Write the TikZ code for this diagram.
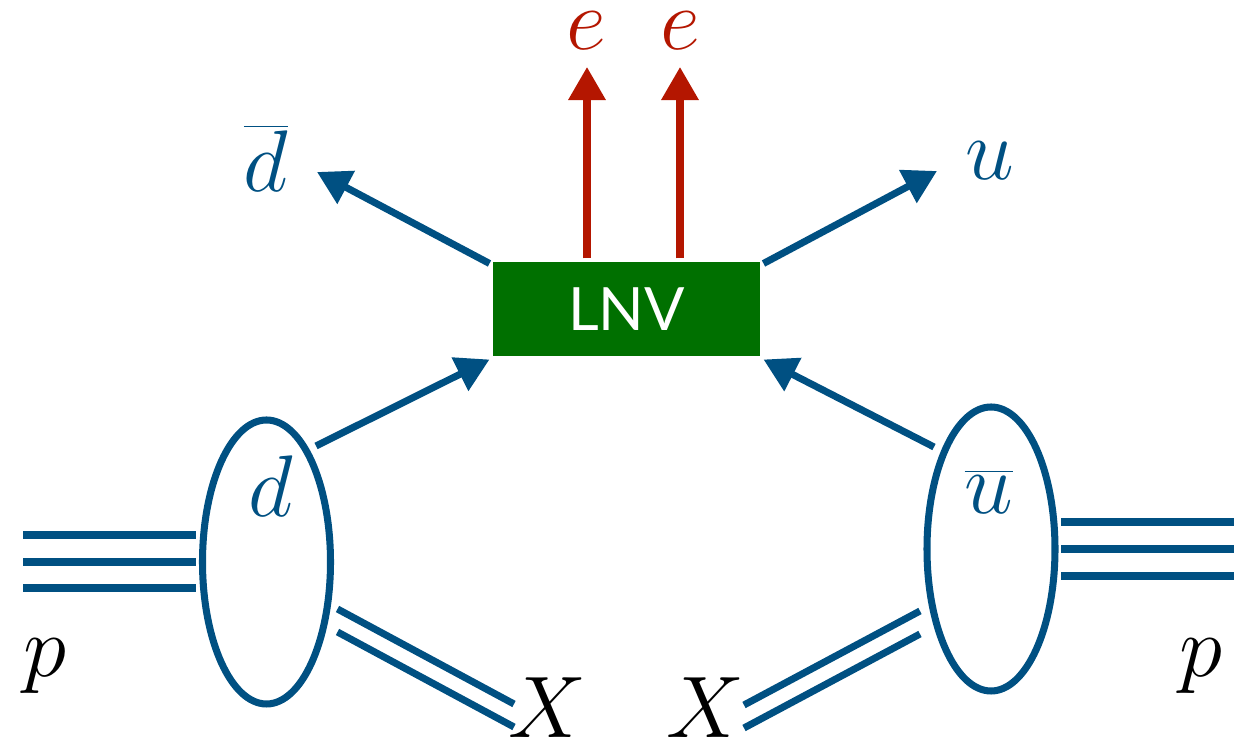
\documentclass[tikz,border=0pt]{standalone}
\usepackage{fontspec}
\newfontfamily\lnvfont{Lato}
\usepackage{tikz}
\usetikzlibrary{arrows.meta, shapes.geometric}
\definecolor{quarkblue}{RGB}{0,80,130}
\definecolor{leptonred}{RGB}{180,22,0}
\definecolor{lnvgreen}{RGB}{0,112,0}

\begin{document}
\begin{tikzpicture}[line width=2pt,
  partlabel/.style={font=\fontsize{24}{28}\selectfont, anchor=base, inner sep=0pt},
  quark/.style={quarkblue, -{Triangle[length=9.4pt,width=10.2pt]}},
  lepton/.style={leptonred, -{Triangle[length=9.4pt,width=10.2pt]}},
  hadron/.style={draw=quarkblue, ellipse, minimum width=1.28cm, minimum height=2.84cm, inner sep=0pt},
  beamline/.style={quarkblue}]
  \useasboundingbox (0,0) rectangle (12.55,7.42);
  \node[fill=lnvgreen, minimum width=2.67cm, minimum height=0.94cm, inner sep=0pt, text=white, font=\lnvfont\fontsize{17}{20}\selectfont] (lnv) at (6.265,4.33) {LNV};
  \node[hadron] (pL) at (2.665,1.80) {};
  \node[hadron] (pR) at (9.91,1.93) {};
  \foreach \dy in {-0.26,0,0.27} \draw[beamline] ([shift={(-0.03,\dy)}]pL.west) -- ++(-1.73,0);
  \foreach \dy in {-0.27,0,0.27} \draw[beamline] ([shift={(0.025,\dy)}]pR.east) -- ++(1.73,0);
  \draw[beamline] ([shift={(0.71,-0.47)}]pL.center) -- ++(1.765,-0.95);
  \draw[beamline] ([shift={(0.71,-0.70)}]pL.center) -- ++(1.765,-0.95);
  \draw[beamline] ([shift={(-0.71,-0.62)}]pR.center) -- ++(-1.76,-0.94);
  \draw[beamline] ([shift={(-0.71,-0.85)}]pR.center) -- ++(-1.76,-0.94);
  \draw[quark] ([shift={(0.495,1.16)}]pL.center) -- (lnv.south west);
  \draw[quark] ([shift={(-0.57,1.02)}]pR.center) -- (lnv.south east);
  \coordinate (dbartip) at (3.17,5.70);
  \coordinate (utip) at (9.37,5.71);
  \draw[quark] ([yshift=-0.05cm]lnv.north west) -- (dbartip);
  \draw[quark] ([yshift=-0.05cm]lnv.north east) -- (utip);
  \draw[lepton] ([xshift=-0.395cm]lnv.north) -- ++(0,1.915);
  \draw[lepton] ([xshift=0.535cm]lnv.north) -- ++(0,1.915);
  \node[partlabel, text=leptonred] (e1) at (5.86,6.92) {$e$};
  \node[partlabel, text=leptonred] (e2) at (6.80,6.92) {$e$};
  \node[partlabel, text=quarkblue] (dbar) at (2.66,5.50) {$\overline{d}$};
  \node[partlabel, text=quarkblue] (uq) at (9.90,5.62) {$u$};
  \node[partlabel, text=quarkblue] (dq) at (2.71,2.25) {$d$};
  \node[partlabel, text=quarkblue] (ubar) at (9.89,2.28) {$\overline{u}$};
  \node[partlabel] (pleft) at (0.45,0.65) {$p$};
  \node[partlabel] (pright) at (12.01,0.65) {$p$};
  \node[partlabel] (xleft) at (5.47,0.04) {$X$};
  \node[partlabel] (xright) at (7.05,0.04) {$X$};
\end{tikzpicture}
\end{document}
